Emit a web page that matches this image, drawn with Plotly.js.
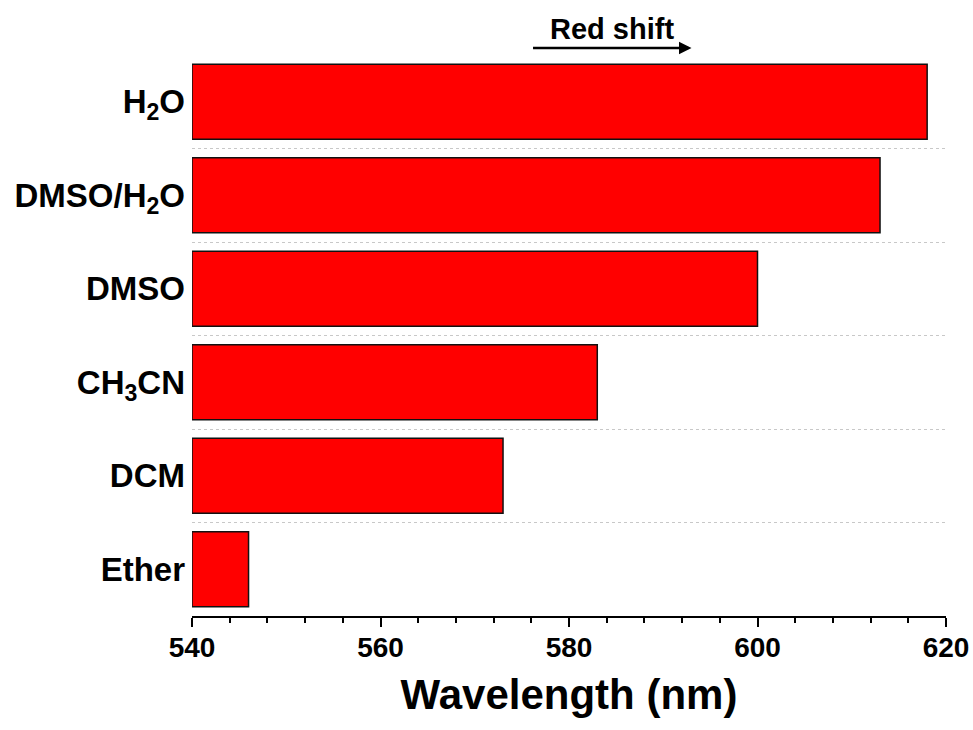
<!DOCTYPE html>
<html>
<head>
<meta charset="utf-8">
<script src="https://cdn.plot.ly/plotly-3.0.1.min.js"></script>
<style>html,body{margin:0;padding:0;background:#fff;}#chart{width:973px;height:730px;}</style>
</head>
<body>
<div id="chart"></div>
<script>
// Solvents, listed bottom to top
const categories = ["Ether", "DCM", "CH<sub>3</sub>CN", "DMSO", "DMSO/H<sub>2</sub>O", "H<sub>2</sub>O"];
const wavelengths = [546, 573, 583, 600, 613, 618];
const xTicks = [540, 560, 580, 600, 620];
const baseWavelength = 540;

const positions = categories.map((c, i) => i);
const boundaries = categories.slice(1).map((c, i) => i + 0.5);

const trace = {
  type: 'bar',
  orientation: 'h',
  y: positions,
  x: wavelengths.map(v => v - baseWavelength),
  base: baseWavelength,
  width: 0.8,
  marker: { color: '#ff0000', line: { color: '#111', width: 1.5 } },
  hoverinfo: 'skip'
};

const font = 'Liberation Sans, Arial, Helvetica, sans-serif';

const layout = {
  width: 973,
  height: 730,
  margin: { l: 192, r: 27, t: 55, b: 114 },
  paper_bgcolor: '#fff',
  plot_bgcolor: '#fff',
  showlegend: false,
  bargap: 0.2,
  xaxis: {
    range: [540, 620],
    tickvals: xTicks,
    ticks: 'outside',
    ticklen: 9,
    tickwidth: 2,
    tickcolor: '#000',
    showline: true,
    linecolor: '#000',
    linewidth: 2,
    showgrid: false,
    zeroline: false,
    ticklabelstandoff: -4,
    tickfont: { family: font, size: 28, weight: 'bold', color: '#000' },
    minor: { dtick: 4, tick0: 540, ticks: 'outside', ticklen: 5, tickwidth: 2, tickcolor: '#000', showgrid: false },
    title: { text: 'Wavelength (nm)', font: { family: font, size: 42, weight: 'bold', color: '#000' }, standoff: 18 }
  },
  yaxis: {
    range: [-0.5, 5.5],
    tickvals: positions,
    ticktext: categories,
    ticks: '',
    showline: false,
    showgrid: false,
    zeroline: false,
    ticklabelstandoff: 6,
    tickfont: { family: font, size: 33, weight: 'bold', color: '#000' },
    minor: { tickvals: boundaries, ticks: '', showgrid: true, gridcolor: '#c8c8c8', gridwidth: 1, griddash: 'dot' }
  },
  annotations: [
    { xref: 'x', yref: 'paper', x: 584.6, y: 1.0, yanchor: 'middle', yshift: 26, text: 'Red shift', showarrow: false,
      font: { family: font, size: 29, weight: 'bold', color: '#000' } },
    { xref: 'x', yref: 'paper', x: 593, y: 1.0, yshift: 7, ax: -160, ay: 0, text: '', showarrow: true,
      arrowhead: 2, arrowsize: 1, arrowwidth: 2.5, arrowcolor: '#000' }
  ]
};

Plotly.newPlot('chart', [trace], layout, { displayModeBar: false, staticPlot: true });
</script>
</body>
</html>
